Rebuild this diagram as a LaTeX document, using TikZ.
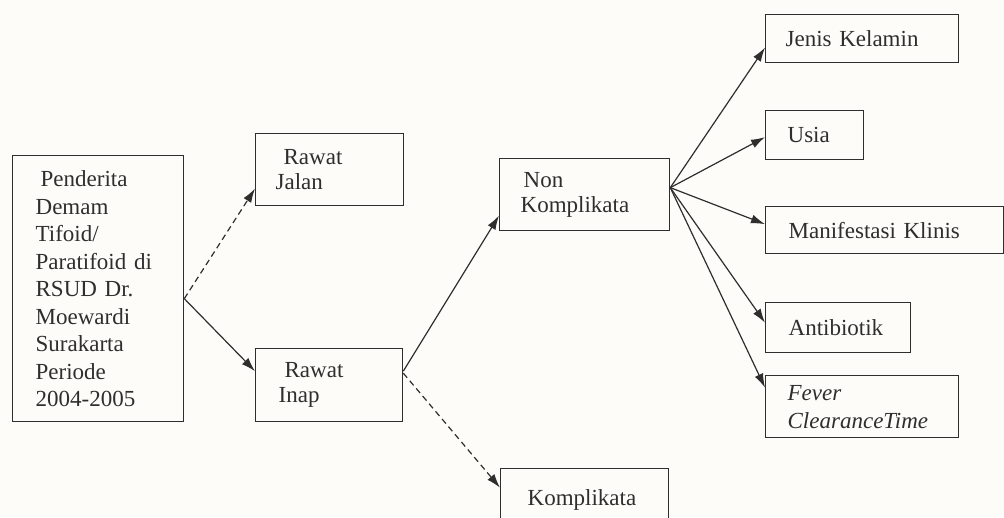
\documentclass[tikz,border=0pt]{standalone}
\usepackage{fontspec}
\setmainfont{Liberation Serif}
\usetikzlibrary{arrows.meta}
\definecolor{ink}{HTML}{2E2E2E}
\definecolor{paper}{HTML}{FDFCF8}
\tikzset{
  box/.style={draw=ink, line width=1.3pt, anchor=north west, align=left,
    inner ysep=0pt, text=ink, font=\fontsize{23}{25}\selectfont},
  conn/.style={draw=ink, line width=1.2pt, -{Latex[length=14pt,width=9pt]}},
  dconn/.style={conn, dash pattern=on 6pt off 4pt}
}
\begin{document}
\begin{tikzpicture}[x=1pt,y=-1pt]
\useasboundingbox (0,0) rectangle (1004,517);
\clip (0,0) rectangle (1004,517);
\fill[paper] (0,0) rectangle (1004,517);

\node[box, minimum width=171pt, minimum height=266pt, inner xsep=23pt, text width=125pt,
  font=\fontsize{23}{27.5}\selectfont] (main) at (12,155)
  {\hspace*{5pt}Penderita\\Demam\\Tifoid/\\Paratifoid di\\RSUD Dr.\\Moewardi\\Surakarta\\Periode\\2004-2005};
\node[box, minimum width=148pt, minimum height=72pt, inner xsep=20pt, text width=108pt] (jalan) at (255,133)
  {\hspace*{8pt}Rawat\\Jalan};
\node[box, minimum width=147pt, minimum height=73pt, inner xsep=23pt, text width=101pt] (inap) at (255,348)
  {\hspace*{6pt}Rawat\\Inap};
\node[box, minimum width=170pt, minimum height=72pt, inner xsep=21pt, text width=128pt] (non) at (499,158)
  {\hspace*{3pt}Non\\Komplikata};
\node[box, minimum width=168pt, minimum height=62pt, inner xsep=27pt, text width=114pt] (kom) at (500,468)
  {Komplikata};
\node[box, minimum width=193pt, minimum height=48pt, inner xsep=20pt, text width=153pt] (jenis) at (765,14)
  {Jenis Kelamin};
\node[box, minimum width=98pt, minimum height=49pt, inner xsep=22pt, text width=54pt] (usia) at (765,110)
  {Usia};
\node[box, minimum width=238pt, minimum height=47pt, inner xsep=23pt, text width=192pt] (manif) at (765,206)
  {Manifestasi Klinis};
\node[box, minimum width=145pt, minimum height=50pt, inner xsep=23pt, text width=99pt] (anti) at (765,302)
  {Antibiotik};
\node[box, minimum width=193pt, minimum height=62pt, inner xsep=22pt, text width=149pt,
  font=\fontsize{23}{28}\selectfont] (fever) at (765,375)
  {\textit{Fever}\\\textit{ClearanceTime}};

\coordinate (mainout) at ([yshift=-10pt]main.east);
\coordinate (jalanin) at ([yshift=-19pt]jalan.west);
\coordinate (inapin) at ([yshift=14pt]inap.west);
\coordinate (inapout) at ([yshift=14pt]inap.east);
\coordinate (inapout2) at ([yshift=12pt]inap.east);
\coordinate (nonin) at ([yshift=-21pt]non.west);
\coordinate (komin) at ([yshift=12pt]kom.west);
\coordinate (nonout) at ([yshift=7pt]non.east);
\coordinate (jenisin) at ([yshift=-9pt]jenis.west);
\coordinate (usiain) at ([yshift=-2pt]usia.west);
\coordinate (manifin) at ([yshift=6pt]manif.west);
\coordinate (antiin) at ([yshift=5pt]anti.west);
\coordinate (feverin) at ([yshift=19pt]fever.west);

\draw[dconn] (mainout) -- (jalanin);
\draw[conn] (mainout) -- (inapin);
\draw[conn] (inapout) -- (nonin);
\draw[dconn] (inapout2) -- (komin);
\draw[conn] (nonout) -- (jenisin);
\draw[conn] (nonout) -- (usiain);
\draw[conn] (nonout) -- (manifin);
\draw[conn] (nonout) -- (antiin);
\draw[conn] (nonout) -- (feverin);
\end{tikzpicture}
\end{document}
